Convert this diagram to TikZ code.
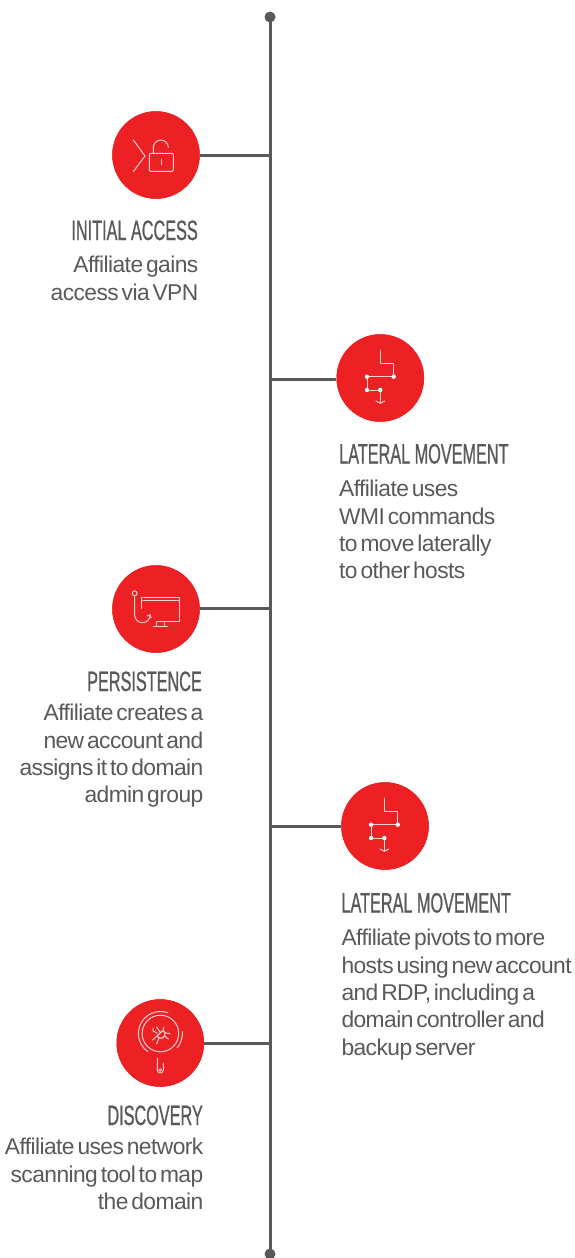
\documentclass[tikz,border=0pt]{standalone}
\usepackage{fontspec}
\setmainfont{Liberation Sans}
\newfontfamily\bodyfont[LetterSpace=-2.5,WordSpace=0.5]{Liberation Sans}
\newfontfamily\headfont[FakeStretch=0.58,FakeBold=0.7]{Liberation Sans}
\definecolor{tred}{HTML}{ED2024}
\definecolor{tgrey}{HTML}{58595B}
\definecolor{ticon}{HTML}{FBD0D2}
\tikzset{
  x=1pt,y=-1pt,
  axis/.style={draw=tgrey,line width=3pt},
  branch/.style={draw=tgrey,line width=3pt},
  enddot/.style={circle,fill=tgrey,minimum size=11pt,inner sep=0pt},
  badge/.style={circle,fill=tred,minimum size=87.5pt,inner sep=0pt},
  icon/.style={draw=ticon,line width=1pt,line cap=round,line join=round},
  headl/.style={anchor=base west,inner sep=0pt,text=tgrey,font=\headfont\fontsize{28}{28}\selectfont},
  headr/.style={anchor=base east,inner sep=0pt,text=tgrey,font=\headfont\fontsize{28}{28}\selectfont},
  bodyl/.style={anchor=north west,inner sep=0pt,align=left,text=tgrey,font=\bodyfont\fontsize{22.8}{27.4}\selectfont},
  bodyr/.style={anchor=north east,inner sep=0pt,align=right,text=tgrey,font=\bodyfont\fontsize{22.8}{27.4}\selectfont},
  lateral/.pic={
    \draw[icon] (0,-28) -- (0,-14.7) -- (13.4,-14.7) -- (13.4,-1.3) -- (-13.3,-1.3) -- (-13.3,12) -- (0,12) -- (0,25.3);
    \draw[icon] (-4.3,23) -- (0,25.3) -- (4.5,23);
    \foreach \p in {(13.4,-1.3),(-13.3,-1.3),(-13.3,12),(0,12)} \fill[white] \p circle (2.2);
  }
}
\begin{document}
\begin{tikzpicture}
\useasboundingbox (0,0) rectangle (574,1258);
\node[enddot] (top) at (270,17) {};
\node[enddot] (bottom) at (270,1254) {};
\draw[axis] (top.center) -- (bottom.center);
\coordinate (j1) at (270,155);
\coordinate (j2) at (270,379);
\coordinate (j3) at (270,608);
\coordinate (j4) at (270,826);
\coordinate (j5) at (270,1043);
\node[badge] (c1) at (156,155) {};
\node[badge] (c2) at (380.3,378) {};
\node[badge] (c3) at (156,609) {};
\node[badge] (c4) at (385,826) {};
\node[badge] (c5) at (160.3,1043) {};
\draw[branch] (c1) -- (j1);
\draw[branch] (c2.west |- j2) -- (j2);
\draw[branch] (c3.east |- j3) -- (j3);
\draw[branch] (c4) -- (j4);
\draw[branch] (c5) -- (j5);
\node[badge] at (c1) {};\node[badge] at (c2) {};\node[badge] at (c3) {};\node[badge] at (c4) {};\node[badge] at (c5) {};
% lock icon
\draw[icon] (133.3,140) -- (145,156) -- (133.3,171.7);
\draw[icon,rounded corners=1.2pt] (149.3,153.3) rectangle (173.3,171.3);
\draw[icon] (153.3,153.3) -- (153.3,147.5) arc[start angle=180,end angle=360,radius=7.5];
\draw[icon] (161.3,159.5) -- (161.3,164.7);
% lateral icons
\pic at (380.3,378) {lateral};
\pic at (384.4,826) {lateral};
% hook & monitor
\draw[icon] (134.7,593.3) circle (2.4);
\draw[icon] (134.7,595.7) -- (134.7,615) arc[start angle=180,end angle=0,radius=7.7];
\draw[icon] (147.2,616) -- (150.1,614.8) -- (151.2,618);
\draw[icon] (141.3,608.3) -- (141.3,597.3) -- (179.3,597.3) -- (179.3,621.7) -- (156.7,621.7);
\draw[icon] (141.3,600) -- (179.3,600);
\draw[icon] (156.7,621.7) -- (156.7,626.3) (164,621.7) -- (164,626.3) (153.3,626.3) -- (167.3,626.3);
% magnifier & bug
\coordinate (lens) at (160.4,1033.5);
\draw[icon] (lens) circle (18.3);
\draw[icon] (lens) ++(290:22) arc[start angle=290,end angle=125,radius=22];
\draw[icon] (lens) ++(-5:22) arc[start angle=-5,end angle=40,radius=22];
\draw[icon] (157.3,1058.3) -- (157.3,1070) arc[start angle=180,end angle=0,radius=3] -- (163.3,1063);
\draw[icon] (160.3,1070) circle (1.2);
\begin{scope}[shift={(0,3)}]
\draw[icon,line width=1.2pt] (157,1033) .. controls (159,1036) and (163,1036) .. (164.5,1033) .. controls (166,1031) and (165,1028) .. (163,1027.5) .. controls (161,1030) and (158,1031) .. (157,1033);
\draw[icon] (157,1033) -- (152.5,1037) (159,1035) -- (156.5,1041) (157,1030) -- (153,1028) -- (153,1025) (160,1029) -- (156.5,1024) (163,1027.5) -- (164,1024) (165,1030) -- (170,1030.5) (164.5,1033) -- (168.5,1036);
\end{scope}
% texts
\node[headr] (t1) at (198,240) {INITIAL ACCESS};
\node[bodyr] (b1) at (198.5,256) {Affiliate gains\\access via VPN};
\node[headl] (t2) at (339,463.5) {LATERAL MOVEMENT};
\node[bodyl] (b2) at (339,480) {Affiliate uses\\WMI commands\\to move laterally\\to other hosts};
\node[headr] (t3) at (202,691) {PERSISTENCE};
\node[bodyr] (b3) at (203.5,704) {Affiliate creates a\\new account and\\assigns it to domain\\admin group};
\node[headl] (t4) at (341.3,912.5) {LATERAL MOVEMENT};
\node[bodyl] (b4) at (341.3,929) {Affiliate pivots to more\\hosts using new account\\and RDP, including a\\domain controller and\\backup server};
\node[headr] (t5) at (203,1125) {DISCOVERY};
\node[bodyr] (b5) at (203.5,1138) {Affiliate uses network\\scanning tool to map\\the domain};
\end{tikzpicture}
\end{document}
